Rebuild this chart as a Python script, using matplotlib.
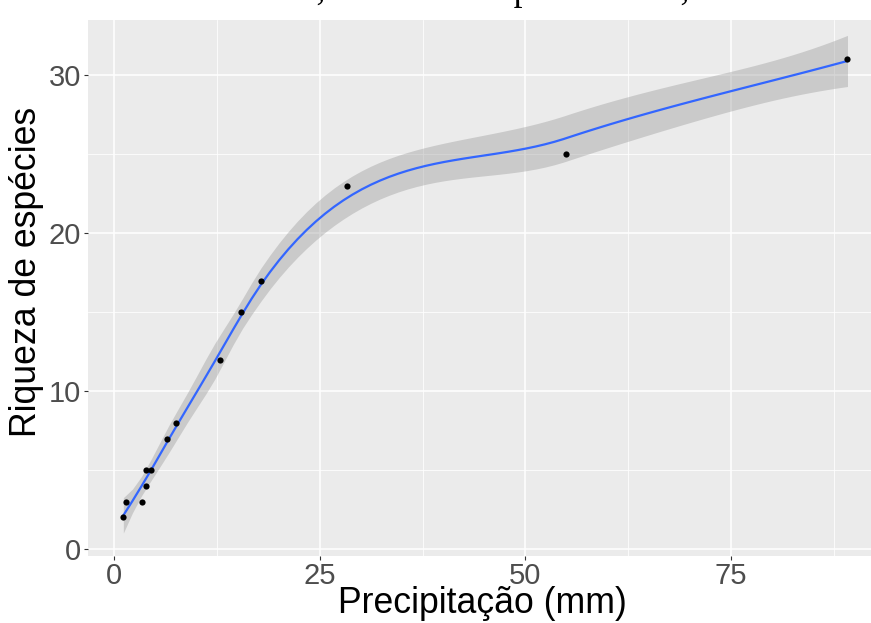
import math
import numpy as np
import matplotlib
matplotlib.use("Agg")
import matplotlib.pyplot as plt

# Observed rainfall (mm) and species richness per site
precipitacao = np.array([1.1, 1.4, 3.4, 3.8, 3.9, 4.5, 6.4, 7.5, 12.8, 15.4, 17.8, 28.3, 55.0, 89.2])
riqueza = np.array([2, 3, 3, 4, 5, 5, 7, 8, 12, 15, 17, 23, 25, 31])

x_ticks = [0, 25, 50, 75]
y_ticks = [0, 10, 20, 30]
x_title = "Precipitação (mm)"
y_title = "Riqueza de espécies"
caption = "na Reserva Natural Vale, estado do Espírito Santo, Brasil."


def local_fit_rows(x, x0, span=0.75):
    """Value and slope rows of a tricube-weighted local quadratic fit at x0."""
    n = len(x)
    q = int(np.floor(n * span))
    d = np.abs(x - x0)
    h = np.sort(d)[q - 1]
    u = np.clip(d / h, 0, 1)
    w = (1 - u ** 3) ** 3
    X = np.column_stack([np.ones(n), x - x0, (x - x0) ** 2])
    XtW = X.T * w
    B = np.linalg.solve(XtW @ X, XtW)
    return B[0], B[1]


def kd_vertices(x, span=0.75, cell=0.2):
    """Cell boundaries of a 1-D k-d tree split at median points."""
    xs = np.sort(x)
    n = len(xs)
    fc = int(np.floor(n * span * cell))
    mu = 0.005 * (xs[-1] - xs[0])
    verts = [xs[0] - mu, xs[-1] + mu]

    def split(lo, hi):  # 1-based inclusive indices
        if hi - lo + 1 <= fc:
            return
        m = (lo + hi) // 2
        verts.append(xs[m - 1])
        split(lo, m)
        split(m + 1, hi)

    split(1, n)
    return np.array(sorted(set(verts)))


def loess_rows(x, grid, span=0.75):
    """Smoothing operator rows via cubic Hermite interpolation between vertices."""
    v = kd_vertices(x, span)
    vals, slopes = zip(*[local_fit_rows(x, vi, span) for vi in v])
    vals, slopes = np.array(vals), np.array(slopes)
    out = []
    for g in grid:
        i = min(max(np.searchsorted(v, g) - 1, 0), len(v) - 2)
        h = v[i + 1] - v[i]
        t = (g - v[i]) / h
        h00 = 2 * t ** 3 - 3 * t ** 2 + 1
        h10 = t ** 3 - 2 * t ** 2 + t
        h01 = -2 * t ** 3 + 3 * t ** 2
        h11 = t ** 3 - t ** 2
        out.append(h00 * vals[i] + h10 * h * slopes[i] + h01 * vals[i + 1] + h11 * h * slopes[i + 1])
    return np.array(out)


def t_quantile(p, df):
    c = math.gamma((df + 1) / 2) / (math.sqrt(df * math.pi) * math.gamma(df / 2))
    t = np.linspace(0, 20, 200001)
    pdf = c * (1 + t ** 2 / df) ** (-(df + 1) / 2)
    cdf = 0.5 + np.concatenate([[0], np.cumsum((pdf[1:] + pdf[:-1]) / 2 * np.diff(t))])
    return float(np.interp(p, cdf, t))


# loess fit with 95% confidence band
L = loess_rows(precipitacao, precipitacao)
I = np.eye(len(precipitacao))
R = (I - L).T @ (I - L)
delta1 = np.trace(R)
delta2 = np.trace(R @ R)
resid = riqueza - L @ riqueza
sigma = math.sqrt(resid @ resid / delta1)
tq = t_quantile(0.975, delta1 ** 2 / delta2)

xs = np.linspace(precipitacao.min(), precipitacao.max(), 80)
rows = loess_rows(precipitacao, xs)
fit = rows @ riqueza
se = sigma * np.sqrt((rows ** 2).sum(axis=1))
lo, hi = fit - tq * se, fit + tq * se

W, H = 871, 623
fig = plt.figure(figsize=(W / 100, H / 100), dpi=100)
fig.patch.set_facecolor("white")

left, right, top, bottom = 88, 882, 20, 556
ax = fig.add_axes([left / W, 1 - bottom / H, (right - left) / W, (bottom - top) / H])
ax.set_facecolor("#EBEBEB")
ax.set_xlim(-3.2, 93.4)
ax.set_ylim(-0.44, 33.5)

for s in ax.spines.values():
    s.set_visible(False)

ax.set_xticks(x_ticks)
ax.set_yticks(y_ticks)
ax.set_xticks([12.5, 37.5, 62.5, 87.5], minor=True)
ax.set_yticks([5, 15, 25], minor=True)
ax.grid(which="major", color="white", linewidth=1.1)
ax.grid(which="minor", color="white", linewidth=0.55)
ax.set_axisbelow(True)

ax.tick_params(which="major", length=2.8, width=0.8, color="#333333",
               labelcolor="#4D4D4D", labelsize=21)
ax.tick_params(axis="x", pad=1.2)
ax.tick_params(axis="y", pad=2.2)
ax.tick_params(which="minor", length=0)
for lab in ax.get_xticklabels() + ax.get_yticklabels():
    lab.set_family("Liberation Sans")

ax.fill_between(xs, lo, hi, color="#999999", alpha=0.4, linewidth=0, zorder=2)
ax.plot(xs, fit, color="#3366FF", linewidth=1.6, zorder=3)
ax.scatter(precipitacao, riqueza, s=20, color="black", zorder=4, linewidths=0)

fig.text(482 / W, 1 - 613 / H, x_title, ha="center", va="baseline",
         fontsize=25.7, family="Liberation Sans", color="black")
fig.text(36 / W, 1 - 272 / H, y_title, ha="center", va="baseline", rotation=90,
         rotation_mode="anchor", fontsize=25.7, family="Liberation Sans", color="black")
fig.text(792 / W, 1.0, caption, ha="right", va="baseline",
         fontsize=25.6, family="Liberation Serif", color="black")

fig.savefig("out.png", dpi=100, facecolor="white")
